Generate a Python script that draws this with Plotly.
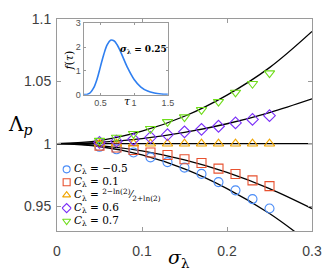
import plotly.graph_objects as go

W, H = 332, 273
L, R, T, B = 57, 10.5, 11.5, 41.5
PW, PH = W - L - R, H - T - B

def px(x):
    return (x - L) / PW

def py(y):
    return (H - B - y) / PH

# ---------- data ----------
sigma_pts = [0.05, 0.07, 0.09, 0.11, 0.13, 0.15, 0.17, 0.19, 0.21, 0.23, 0.25]
lam_m05 = [0.9975, 0.9955, 0.993, 0.989, 0.9852, 0.9808, 0.9758, 0.9692, 0.9626, 0.9556, 0.948]
lam_01 = [0.9985, 0.997, 0.995, 0.993, 0.991, 0.9875, 0.9845, 0.980, 0.9757, 0.9706, 0.966]
lam_crit = [1.0, 1.0, 1.0, 1.0, 1.0, 1.0, 1.0, 1.0, 1.0, 1.0, 1.0]
lam_06 = [1.001, 1.002, 1.0035, 1.005, 1.0072, 1.0095, 1.0115, 1.014, 1.0167, 1.0195, 1.0225]
lam_07 = [1.0025, 1.005, 1.008, 1.012, 1.0175, 1.0213, 1.0272, 1.0337, 1.0411, 1.0481, 1.0566]

sigma_curve = [0.0, 0.05, 0.10, 0.15, 0.20, 0.25, 0.30]
curve_m05 = [1.0, 0.99775, 0.991, 0.9798, 0.964, 0.944, 0.919]
curve_01 = [1.0, 0.9985, 0.9942, 0.987, 0.977, 0.964, 0.948]
curve_crit = [1.0, 1.0, 1.0, 1.0, 1.0, 1.0, 1.0]
curve_06 = [1.0, 1.001, 1.004, 1.009, 1.016, 1.025, 1.036]
curve_07 = [1.0, 1.0025, 1.010, 1.022, 1.039, 1.061, 1.090]

tau = [0.25, 0.30, 0.35, 0.40, 0.45, 0.50, 0.55, 0.60, 0.65, 0.70, 0.75, 0.80,
       0.90, 1.00, 1.10, 1.20, 1.30, 1.40, 1.50]
f_tau = [0.0, 0.01, 0.08, 0.28, 0.65, 1.17, 1.69, 2.09, 2.29, 2.27, 2.09, 1.80,
         1.15, 0.64, 0.32, 0.15, 0.07, 0.03, 0.013]

series_names = ["<i>C</i><sub>λ</sub> = −0.5", "<i>C</i><sub>λ</sub> = 0.1",
                "<i>C</i><sub>λ</sub> = <sup>2−ln(2)</sup>⁄<sub>2+ln(2)</sub>",
                "<i>C</i><sub>λ</sub> = 0.6", "<i>C</i><sub>λ</sub> = 0.7"]
series_vals = [lam_m05, lam_01, lam_crit, lam_06, lam_07]
curve_vals = [curve_m05, curve_01, curve_crit, curve_06, curve_07]
colors = ["#4a8cf7", "#e8512f", "#f0a500", "#7b2ff7", "#6fdc1a"]
symbols = ["circle-open", "square-open", "triangle-up-open", "diamond-open", "triangle-down-open"]

fig = go.Figure()

for cv in curve_vals:
    fig.add_trace(go.Scatter(x=sigma_curve, y=cv, mode="lines",
                             line=dict(color="black", width=1.3, shape="spline"),
                             showlegend=False, hoverinfo="skip"))

for name, vals, c, s in zip(series_names, series_vals, colors, symbols):
    fig.add_trace(go.Scatter(x=sigma_pts, y=vals, mode="markers", name=name, showlegend=False,
                             marker=dict(symbol=s, size=9, color=c, line=dict(color=c, width=1.1))))

# legend keys (one per series, stacked by index)
for i, (name, c, s) in enumerate(zip(series_names, colors, symbols)):
    fig.add_trace(go.Scatter(x=[0.5], y=[i], mode="markers", xaxis="x3", yaxis="y3", showlegend=False,
                             hoverinfo="skip",
                             marker=dict(symbol=s, size=7, color=c, line=dict(color=c, width=1.1))))
    fig.add_annotation(x=px(73), y=i, xref="paper", yref="y3", xanchor="left", yanchor="middle",
                       showarrow=False, text=name,
                       font=dict(family="DejaVu Serif, serif", size=10.5, color="black"))

fig.add_trace(go.Scatter(x=tau, y=f_tau, mode="lines", xaxis="x2", yaxis="y2",
                         line=dict(color="#2f7ff0", width=1.6, shape="spline"), showlegend=False))

axis_line = "#9a9a9a"
tickfont = dict(family="Liberation Sans, Arial, sans-serif", size=14, color="#404040")
smallfont = dict(family="Liberation Sans, Arial, sans-serif", size=9, color="#505050")

fig.update_layout(
    width=W, height=H,
    margin=dict(l=L, r=R, t=T, b=B),
    paper_bgcolor="white", plot_bgcolor="white",
    showlegend=False,
    xaxis=dict(range=[0, 0.3], tickvals=[0, 0.1, 0.2, 0.3], ticktext=["0", "0.1", "0.2", "0.3"],
               showgrid=False, zeroline=False, showline=True, linecolor=axis_line, linewidth=1,
               mirror="ticks", ticks="inside", ticklen=4, tickcolor=axis_line, tickfont=tickfont,
               ticklabelstandoff=7),
    yaxis=dict(range=[0.93, 1.1], tickvals=[0.95, 1.0, 1.05, 1.1], ticktext=["0.95", "1", "1.05", "1.1"],
               showgrid=False, zeroline=False, showline=True, linecolor=axis_line, linewidth=1,
               mirror="ticks", ticks="inside", ticklen=4, tickcolor=axis_line, tickfont=tickfont,
               ticklabelstandoff=2),
    xaxis2=dict(domain=[px(84.5), px(172)], anchor="y2", range=[0.25, 1.5], tickvals=[0.5, 1, 1.5],
                ticktext=["0.5", "1", "1.5"], showgrid=False, zeroline=False, showline=True,
                linecolor=axis_line, linewidth=1, mirror="ticks", ticks="inside", ticklen=2,
                tickcolor=axis_line, tickfont=smallfont),
    yaxis2=dict(domain=[py(90), py(16)], anchor="x2", range=[0, 3], tickvals=[0, 1, 2, 3],
                showgrid=False, zeroline=False, showline=True, linecolor=axis_line, linewidth=1,
                mirror="ticks", ticks="inside", ticklen=2, tickcolor=axis_line, tickfont=smallfont),
    xaxis3=dict(domain=[px(62), px(72)], anchor="y3", range=[0, 1], visible=False),
    yaxis3=dict(domain=[py(227.8), py(160.8)], anchor="x3", range=[4.5, -0.5], visible=False),
)

serif = "DejaVu Serif, Liberation Serif, serif"

def label(xp, yp, text, size, angle=0):
    fig.add_annotation(x=px(xp), y=py(yp), xref="paper", yref="paper", showarrow=False,
                       xanchor="center", yanchor="middle", textangle=angle, text=text,
                       font=dict(family=serif, size=size, color="black"))

label(19, 121, "Λ<sub><i>p</i></sub>", 20)
label(184, 260, "<i>σ</i><sub>λ</sub>", 19)
label(147, 43, "<b><i>σ</i><sub>λ</sub> = 0.25</b>", 9)
label(70, 55, "<i>f</i>(<i>τ</i>)", 11, -90)
label(130, 97, "<i>τ</i>", 11)

fig.write_html("out.html", config={"displayModeBar": False},
               post_script="document.body.style.margin='0';document.body.style.overflow='hidden';")
